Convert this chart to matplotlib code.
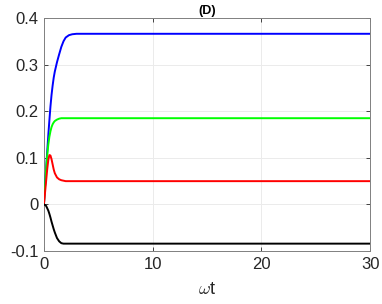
# -*- coding:UTF-8 -*-
# time evolution panel (D)
import matplotlib
matplotlib.use("Agg")
import matplotlib.pyplot as plt

# ---------------------------------------------------#
# data
# ---------------------------------------------------#
t_vals = [0, 0.1, 0.2, 0.3, 0.4, 0.5, 0.6, 0.7, 0.8, 0.9, 1.0, 1.2, 1.4, 1.6, 1.8, 2.0,
          2.3, 2.6, 3.0, 4, 6, 10, 15, 20, 25, 30]
blue_vals = [0, 0.038, 0.076, 0.113, 0.148, 0.18, 0.21, 0.235, 0.255, 0.272, 0.285, 0.305,
             0.322, 0.338, 0.35, 0.358, 0.363, 0.365, 0.366, 0.366, 0.366, 0.366, 0.366,
             0.366, 0.366, 0.366]
green_vals = [0, 0.038, 0.075, 0.105, 0.128, 0.145, 0.157, 0.166, 0.172, 0.176, 0.179, 0.182,
              0.184, 0.185, 0.185, 0.185, 0.185, 0.185, 0.185, 0.185, 0.185, 0.185, 0.185,
              0.185, 0.185, 0.185]
red_vals = [0, 0.025, 0.05, 0.075, 0.095, 0.106, 0.105, 0.097, 0.086, 0.075, 0.067, 0.058,
            0.054, 0.052, 0.051, 0.05, 0.05, 0.05, 0.05, 0.05, 0.05, 0.05, 0.05, 0.05,
            0.05, 0.05]
black_vals = [0, -0.001, -0.003, -0.008, -0.013, -0.02, -0.028, -0.037, -0.045, -0.053, -0.06,
              -0.072, -0.079, -0.083, -0.084, -0.084, -0.084, -0.084, -0.084, -0.084, -0.084,
              -0.084, -0.084, -0.084, -0.084, -0.084]
x_ticks = [0, 10, 20, 30]
y_ticks = [-0.1, 0, 0.1, 0.2, 0.3, 0.4]
y_tick_labels = ["-0.1", "0", "0.1", "0.2", "0.3", "0.4"]

# ---------------------------------------------------#
# figure
# ---------------------------------------------------#
plt.rcParams["font.family"] = ["Liberation Sans", "DejaVu Sans"]
plt.rcParams["mathtext.fontset"] = "cm"
fig = plt.figure(figsize=(3.82, 3.04), dpi=100)
ax = fig.add_axes([0.115, 0.174, 0.854, 0.767])

for vals, col in [(blue_vals, "#0000ff"), (green_vals, "#00ff00"),
                  (red_vals, "#ff0000"), (black_vals, "#000000")]:
    ax.plot(t_vals, vals, color=col, lw=1.4, zorder=3)

ax.set_xlim(0, 30)
ax.set_ylim(-0.1, 0.4)
ax.set_xticks(x_ticks)
ax.set_yticks(y_ticks)
ax.set_yticklabels(y_tick_labels)
ax.grid(True, color="#ebebeb", lw=0.7, zorder=0)
ax.tick_params(direction="in", length=3, width=0.6, colors="#262626", labelsize=12,
               top=True, right=True, pad=4, labelcolor="#262626")
for sp in ax.spines.values():
    sp.set_color("#808080")
    sp.set_linewidth(0.7)

ax.set_title("(D)", fontsize=9, fontweight="bold", pad=3)
ax.set_xlabel(r"$\omega$t", fontsize=13, labelpad=7, color="#262626")

plt.savefig("out.png", dpi=100)
plt.close()
